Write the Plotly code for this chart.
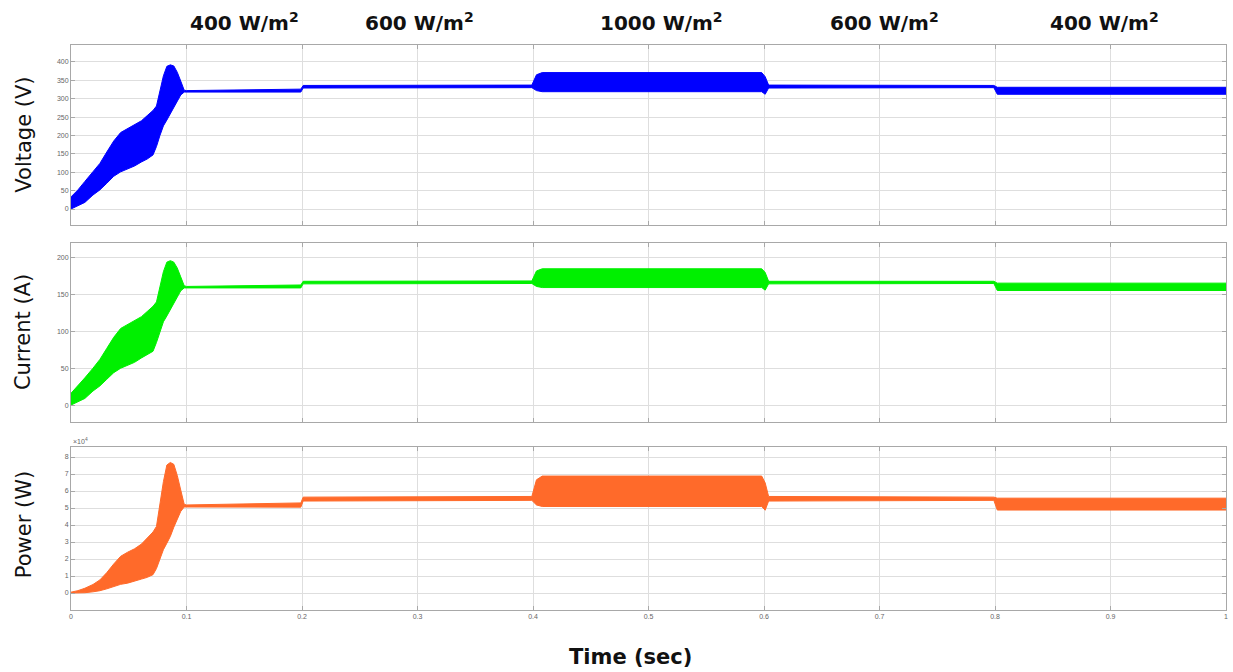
import plotly.graph_objects as go

# ---- data (upper / lower envelopes of the oscillating signals) ----
time_s = [0, 0.006, 0.012, 0.019, 0.025, 0.031, 0.037, 0.043, 0.049, 0.055, 0.061, 0.066,
          0.071, 0.074, 0.077, 0.080, 0.083, 0.086, 0.089, 0.092, 0.095, 0.098, 0.100,
          0.199, 0.201, 0.399, 0.403, 0.408, 0.598, 0.601, 0.604, 0.799, 0.802, 1.0]

voltage_upper = [33, 52, 75, 100, 124, 155, 185, 208, 219, 228, 240, 254,
                 268, 280, 324, 362, 388, 392, 389, 372, 348, 323, 322,
                 326, 336, 337, 365, 371, 371, 360, 337, 336, 331, 331]
voltage_lower = [0, 8, 18, 38, 52, 70, 89, 101, 108, 117, 128, 136,
                 147, 170, 200, 226, 242, 258, 278, 293, 310, 318, 318,
                 318, 329, 330, 322, 319, 319, 312, 329, 330, 312, 312]

current_upper = [16, 26, 37, 50, 62, 77, 92, 104, 109, 114, 120, 127,
                 134, 140, 162, 181, 194, 196, 194, 186, 174, 162, 161,
                 163, 168, 168.5, 182, 185, 185, 180, 168, 168, 165.5, 165.5]
current_lower = [0, 4, 9, 19, 26, 35, 44, 50, 54, 58, 64, 68,
                 73, 85, 100, 113, 121, 129, 139, 146, 155, 159, 159,
                 159, 164.5, 165, 161, 159.5, 159.5, 156, 164.5, 165, 155.5, 155.5]

power_upper = [0.05, 0.14, 0.28, 0.5, 0.77, 1.2, 1.71, 2.16, 2.4, 2.6, 2.88, 3.23,
               3.59, 3.92, 5.25, 6.55, 7.53, 7.68, 7.57, 6.92, 6.06, 5.22, 5.18,
               5.3, 5.64, 5.68, 6.66, 6.88, 6.88, 6.48, 5.68, 5.64, 5.58, 5.58]
power_lower = [0, 0.003, 0.016, 0.07, 0.135, 0.245, 0.40, 0.51, 0.58, 0.68, 0.82, 0.92,
               1.08, 1.44, 2.0, 2.55, 2.93, 3.33, 3.87, 4.29, 4.8, 5.06, 5.06,
               5.05, 5.41, 5.45, 5.18, 5.09, 5.09, 4.87, 5.41, 5.45, 4.88, 4.88]

irradiance_labels = ["400 W/m<sup>2</sup>", "600 W/m<sup>2</sup>", "1000 W/m<sup>2</sup>",
                     "600 W/m<sup>2</sup>", "400 W/m<sup>2</sup>"]
irradiance_pos = [0.150, 0.302, 0.511, 0.704, 0.895]

x_ticks = [0, 0.1, 0.2, 0.3, 0.4, 0.5, 0.6, 0.7, 0.8, 0.9, 1]
x_ticklabels = ["0", "0.1", "0.2", "0.3", "0.4", "0.5", "0.6", "0.7", "0.8", "0.9", "1"]
v_ticks = [0, 50, 100, 150, 200, 250, 300, 350, 400]
i_ticks = [0, 50, 100, 150, 200]
p_ticks = [0, 1, 2, 3, 4, 5, 6, 7, 8]

# ---- figure ----
fig = go.Figure()

panels = [
    (voltage_upper, voltage_lower, "#0000FF", "x", "y"),
    (current_upper, current_lower, "#00F000", "x2", "y2"),
    (power_upper, power_lower, "#FF6A2A", "x3", "y3"),
]
for up, lo, col, xa, ya in panels:
    fig.add_trace(go.Scatter(x=time_s, y=lo, mode="lines", line=dict(color=col, width=1),
                             xaxis=xa, yaxis=ya, showlegend=False, hoverinfo="skip"))
    fig.add_trace(go.Scatter(x=time_s, y=up, mode="lines", line=dict(color=col, width=1),
                             fill="tonexty", fillcolor=col,
                             xaxis=xa, yaxis=ya, showlegend=False, hoverinfo="skip"))

grid_col = "#dedede"
axis_col = "#a8a8a8"
tick_font = dict(family="Liberation Sans, Arial, sans-serif", size=7, color="#666666")

def xaxis(anchor, show_labels):
    return dict(range=[0, 1], domain=[0, 1], anchor=anchor, tickvals=x_ticks,
                ticktext=x_ticklabels, showticklabels=show_labels, showgrid=True,
                gridcolor=grid_col, gridwidth=1, zeroline=False, showline=True,
                linecolor=axis_col, linewidth=1, mirror="ticks", ticks="inside",
                ticklen=4, tickcolor=axis_col, tickfont=tick_font, fixedrange=True)

def yaxis(domain, anchor, rng, tv):
    return dict(range=rng, domain=domain, anchor=anchor, tickvals=tv, showgrid=True,
                gridcolor=grid_col, gridwidth=1, zeroline=False, showline=True,
                linecolor=axis_col, linewidth=1, mirror="ticks", ticks="inside",
                ticklen=4, tickcolor=axis_col, tickfont=tick_font, fixedrange=True)

fig.update_layout(
    width=1233, height=672,
    margin=dict(l=71, r=5, t=45, b=62),
    paper_bgcolor="white", plot_bgcolor="white",
    xaxis=xaxis("y", False),
    xaxis2=xaxis("y2", False),
    xaxis3=xaxis("y3", True),
    yaxis=yaxis([0.6814, 1.0], "x", [-43.5, 446], v_ticks),
    yaxis2=yaxis([0.3327, 0.6496], "x2", [-23, 220], i_ticks),
    yaxis3=yaxis([0.0, 0.2885], "x3", [-1.0, 8.59], p_ticks),
)

title_font = dict(family="DejaVu Sans, sans-serif", size=20, color="#111111", weight="bold")
for lab, xp in zip(irradiance_labels, irradiance_pos):
    fig.add_annotation(text=lab, x=xp, y=1.041, xref="paper", yref="paper",
                       showarrow=False, xanchor="center", yanchor="middle", font=title_font)

label_font = dict(family="DejaVu Sans, sans-serif", size=21, color="#111111")
for txt, yp in [("Voltage (V)", 0.8407), ("Current (A)", 0.4912), ("Power (W)", 0.1513)]:
    fig.add_annotation(text=txt, x=-0.041, y=yp, xref="paper", yref="paper", textangle=-90,
                       showarrow=False, xanchor="center", yanchor="middle", font=label_font)

fig.add_annotation(text="Time (sec)", x=0.484, y=-0.083, xref="paper", yref="paper",
                   showarrow=False, xanchor="center", yanchor="middle",
                   font=dict(family="DejaVu Sans, sans-serif", size=21, color="#111111", weight="bold"))

fig.add_annotation(text="\u00d710<sup>4</sup>", x=0.0, y=0.2885, xref="paper", yref="paper",
                   showarrow=False, xanchor="left", yanchor="bottom",
                   font=dict(family="Liberation Sans, Arial, sans-serif", size=7, color="#666666"))

fig.write_html("out.html")
